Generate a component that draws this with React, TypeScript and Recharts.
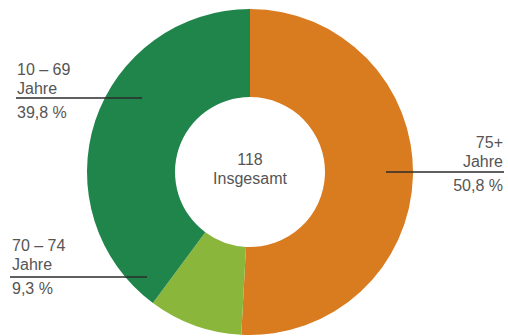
import React from "react";
import { PieChart, Pie, Cell } from "recharts";

const categories = ["75+ Jahre", "70 – 74 Jahre", "10 – 69 Jahre"];
const ageLines = ["75+", "70 – 74", "10 – 69"];
const shares = [50.8, 9.3, 39.8];
const shareLabels = ["50,8 %", "9,3 %", "39,8 %"];
const colors = ["#D97B1F", "#8AB63B", "#20854A"];
const totalValue = "118";
const totalLabel = "Insgesamt";

const data = categories.map((name, i) => ({ name, value: shares[i] }));

// annotation layout (label block positions)
const labelLayout = [
  { x: 503, anchor: "end", top: 148, lineX1: 386, lineX2: 504, lineY: 172 },
  { x: 12, anchor: "start", top: 251, lineX1: 10, lineX2: 147, lineY: 277 },
  { x: 17, anchor: "start", top: 75, lineX1: 16, lineX2: 142, lineY: 98 },
];

const FONT = "'Liberation Sans', Arial, sans-serif";
const TEXT = "#555555";
const FS = 16;

const renderLabel = (props: any) => {
  const i = props.index;
  const l = labelLayout[i];
  return (
    <g key={`lbl-${i}`}>
      <text x={l.x} y={l.top} textAnchor={l.anchor} fontFamily={FONT} fontSize={FS} fill={TEXT}>
        {ageLines[i]}
      </text>
      <text x={l.x} y={l.top + 18.5} textAnchor={l.anchor} fontFamily={FONT} fontSize={FS} fill={TEXT}>
        Jahre
      </text>
      <line x1={l.lineX1} x2={l.lineX2} y1={l.lineY} y2={l.lineY} stroke="#2b2b2b" strokeWidth={1.5} />
      <text x={l.x} y={l.top + 43} textAnchor={l.anchor} fontFamily={FONT} fontSize={FS} fill={TEXT}>
        {shareLabels[i]}
      </text>
    </g>
  );
};

export default function App() {
  return (
    <div style={{ position: "absolute", left: 0, top: 0, width: 508, height: 336, background: "#fff" }}>
      <PieChart width={508} height={336} margin={{ top: 0, right: 0, bottom: 0, left: 0 }}>
        <Pie
          data={data}
          dataKey="value"
          nameKey="name"
          cx={250}
          cy={172}
          innerRadius={75}
          outerRadius={163}
          startAngle={90}
          endAngle={-270}
          stroke="none"
          isAnimationActive={false}
          label={renderLabel}
          labelLine={false}
        >
          {data.map((d, i) => (
            <Cell key={d.name} fill={colors[i]} />
          ))}
        </Pie>
        <text x={250} y={165} textAnchor="middle" fontFamily={FONT} fontSize={FS} fill={TEXT}>
          {totalValue}
        </text>
        <text x={250} y={183.5} textAnchor="middle" fontFamily={FONT} fontSize={FS} fill={TEXT}>
          {totalLabel}
        </text>
      </PieChart>
    </div>
  );
}
